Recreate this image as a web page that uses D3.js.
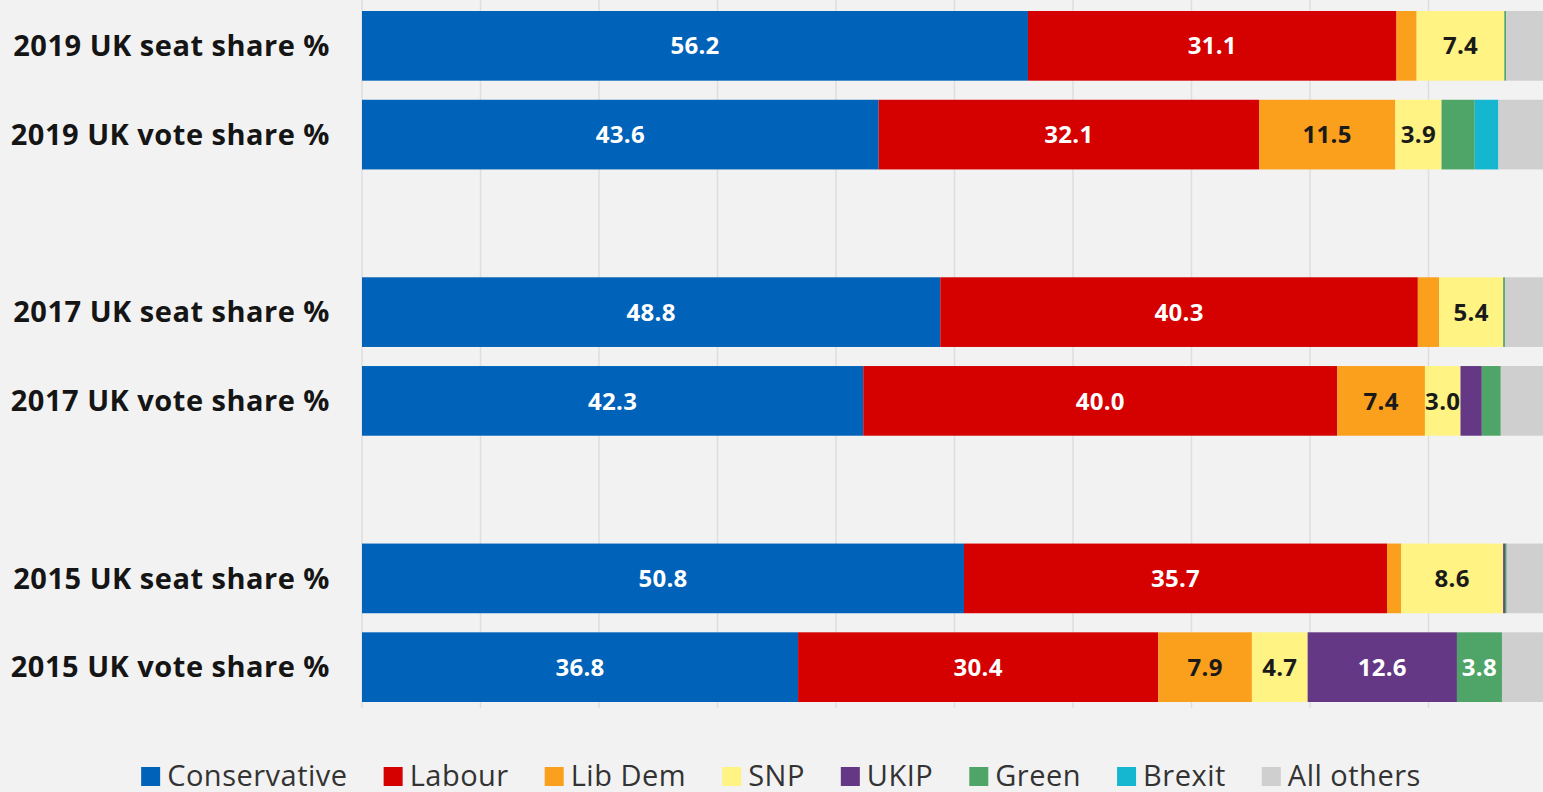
<!DOCTYPE html>
<html>
<head>
<meta charset="utf-8">
<script src="https://cdn.jsdelivr.net/npm/d3@7"></script>
<style>
  body { margin: 0; background: #f2f2f2; }
  svg { display: block; font-family: "Open Sans", sans-serif; }
</style>
</head>
<body>
<script>
// data (percent)
var rows = ["2019 UK seat share %", "2019 UK vote share %",
            "2017 UK seat share %", "2017 UK vote share %",
            "2015 UK seat share %", "2015 UK vote share %"];
// slot of each row (slots 2 and 5 stay empty as spacers)
var slots = [0, 1, 3, 4, 6, 7];

var parties = ["Conservative", "Labour", "Lib Dem", "SNP", "UKIP", "Green", "Brexit", "All others"];
var conservative = [56.2, 43.6, 48.8, 42.3, 50.8, 36.8];
var labour       = [31.1, 32.1, 40.3, 40.0, 35.7, 30.4];
var libDem       = [1.7, 11.5, 1.8, 7.4, 1.2, 7.9];
var snp          = [7.4, 3.9, 5.4, 3.0, 8.6, 4.7];
var ukip         = [0, 0, 0, 1.8, 0.15, 12.6];
var green        = [0.15, 2.8, 0.15, 1.6, 0.15, 3.8];
var brexit       = [0, 2.0, 0, 0, 0, 0];
var others       = [3.4, 4.1, 3.5, 3.9, 3.3, 3.8];

var colors = ["#0062b9", "#d50000", "#faa01c", "#fef383", "#643884", "#4fa468", "#14b7cf", "#d0cfcf"];
var darkText = ["Lib Dem", "SNP"];

var w = 1543, h = 792;
var svg = d3.select("body").append("svg")
  .attr("width", w)
  .attr("height", h);

svg.append("rect").attr("width", w).attr("height", h).attr("fill", "#f2f2f2");

// build table for the stack
var table = rows.map(function(r, i) {
  return {
    row: r, slot: slots[i],
    "Conservative": conservative[i], "Labour": labour[i], "Lib Dem": libDem[i],
    "SNP": snp[i], "UKIP": ukip[i], "Green": green[i], "Brexit": brexit[i],
    "All others": others[i]
  };
});

var series = d3.stack().keys(parties)(table);

var x = d3.scaleLinear().domain([0, 100]).range([362, 1547]);
var y = d3.scaleBand()
  .domain(d3.range(8))
  .range([0, 713])
  .paddingInner(0.215)
  .paddingOuter(0.124);

var color = d3.scaleOrdinal().domain(parties).range(colors);

// gridlines
svg.append("g")
  .attr("class", "grid")
  .selectAll("line")
  .data(x.ticks(10))
  .enter().append("line")
  .attr("x1", function(d) { return x(d); })
  .attr("x2", function(d) { return x(d); })
  .attr("y1", 0)
  .attr("y2", 708)
  .attr("stroke", "#dedede")
  .attr("stroke-width", 1.5);

// bars
var groups = svg.append("g").selectAll("g")
  .data(series)
  .enter().append("g")
  .attr("fill", function(d) { return color(d.key); });

groups.selectAll("rect")
  .data(function(d) { return d; })
  .enter().append("rect")
  .attr("x", function(d) { return x(d[0]); })
  .attr("y", function(d) { return y(d.data.slot); })
  .attr("width", function(d) { return x(d[1]) - x(d[0]); })
  .attr("height", y.bandwidth());

// values inside segments
groups.each(function(s) {
  var key = s.key;
  if (key === "All others") return;
  d3.select(this).selectAll("text")
    .data(s.filter(function(d) { return d[1] - d[0] >= 3; }))
    .enter().append("text")
    .attr("x", function(d) { return (x(d[0]) + x(d[1])) / 2; })
    .attr("y", function(d) { return y(d.data.slot) + y.bandwidth() / 2; })
    .attr("dy", "0.36em")
    .attr("text-anchor", "middle")
    .attr("fill", darkText.indexOf(key) >= 0 ? "#1a1a1a" : "#ffffff")
    .style("font-size", "24px")
    .style("font-weight", "bold")
    .style("letter-spacing", "0.3px")
    .text(function(d) { return d3.format(".1f")(d[1] - d[0]); });
});

// row labels
svg.append("g").selectAll("text")
  .data(table)
  .enter().append("text")
  .attr("x", 330)
  .attr("y", function(d) { return y(d.slot) + y.bandwidth() / 2; })
  .attr("dy", "0.35em")
  .attr("text-anchor", "end")
  .attr("fill", "#151515")
  .style("font-size", "29px")
  .style("font-weight", "bold")
  .style("letter-spacing", "0.5px")
  .text(function(d) { return d.row; });

// legend
var legend = svg.append("g").attr("class", "legend");
var lx = 0, gap = 36;
parties.forEach(function(p) {
  var item = legend.append("g").attr("transform", "translate(" + lx + ",0)");
  item.append("rect")
    .attr("x", 0).attr("y", -19)
    .attr("width", 19).attr("height", 19)
    .attr("fill", color(p));
  var t = item.append("text")
    .attr("x", 26).attr("y", 0)
    .attr("fill", "#333")
    .style("font-size", "29px")
    .style("letter-spacing", "0.5px")
    .text(p);
  lx += 26 + t.node().getComputedTextLength() + gap;
});
lx -= gap;
legend.attr("transform", "translate(" + (781 - lx / 2) + ",786)");
</script>
</body>
</html>
